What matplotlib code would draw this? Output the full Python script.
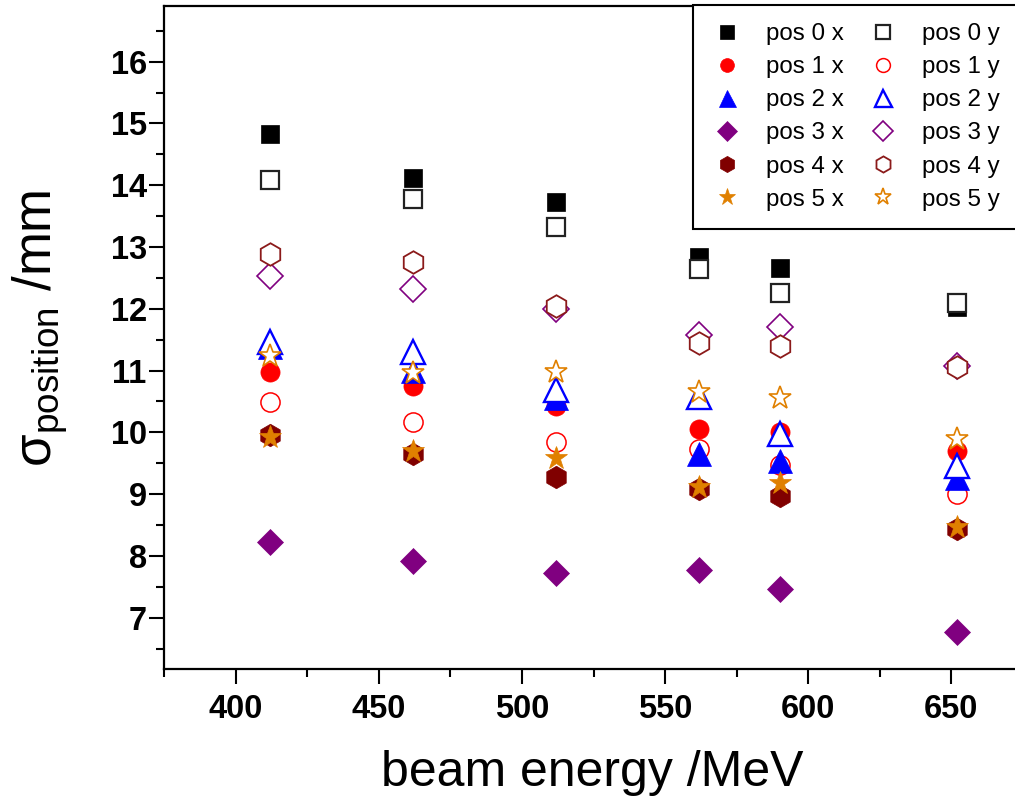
import matplotlib
matplotlib.use("Agg")
import matplotlib.pyplot as plt
from matplotlib.ticker import MultipleLocator

plt.rcParams['font.family'] = ['Liberation Sans', 'DejaVu Sans']
plt.rcParams['mathtext.fontset'] = 'custom'
plt.rcParams['mathtext.rm'] = 'Liberation Sans'
plt.rcParams['mathtext.it'] = 'Liberation Sans:italic'
plt.rcParams['mathtext.bf'] = 'Liberation Sans:bold'

# beam energies (MeV)
energy = [412, 462, 512, 562, 590, 652]

# beam width sigma (mm) per monitor position, horizontal (x) and vertical (y)
pos0_x = [14.83, 14.12, 13.72, 12.83, 12.66, 12.03]
pos0_y = [14.09, 13.77, 13.32, 12.65, 12.25, 12.09]
pos1_x = [10.97, 10.75, 10.43, 10.06, 10.01, 9.70]
pos1_y = [10.49, 10.17, 9.84, 9.73, 9.47, 9.00]
pos2_x = [11.38, 11.00, 10.55, 9.65, 9.54, 9.26]
pos2_y = [11.47, 11.30, 10.68, 10.58, 9.97, 9.46]
pos3_x = [8.23, 7.92, 7.72, 7.77, 7.46, 6.77]
pos3_y = [12.53, 12.32, 12.00, 11.58, 11.71, 11.07]
pos4_x = [9.96, 9.65, 9.27, 9.08, 8.97, 8.43]
pos4_y = [12.88, 12.76, 12.05, 11.45, 11.40, 11.06]
pos5_x = [9.93, 9.70, 9.58, 9.12, 9.18, 8.47]
pos5_y = [11.24, 10.96, 10.98, 10.66, 10.56, 9.90]

labels_x = ['pos 0 x', 'pos 1 x', 'pos 2 x', 'pos 3 x', 'pos 4 x', 'pos 5 x']
labels_y = ['pos 0 y', 'pos 1 y', 'pos 2 y', 'pos 3 y', 'pos 4 y', 'pos 5 y']

series_x = [pos0_x, pos1_x, pos2_x, pos3_x, pos4_x, pos5_x]
series_y = [pos0_y, pos1_y, pos2_y, pos3_y, pos4_y, pos5_y]

colors = ['#000000', '#ff0000', '#0000ff', '#800080', '#800000', '#e08000']
markers = ['s', 'o', '^', 'D', 'h', '*']
sizes = [13.3, 13.8, 17.0, 13.7, 16.2, 17.2]
open_edge = [1.6, 1.1, 1.7, 1.2, 1.3, 1.2]
open_edge_color = ['#222222', '#ff0000', '#0000ff', '#800080', '#8b1a1a', '#e08000']

fig = plt.figure(figsize=(10.15, 7.99), dpi=100)
ax = fig.add_axes([164 / 1015, 130 / 799, 859 / 1015, 663 / 799])

handles_x, handles_y = [], []
for i in range(6):
    hx, = ax.plot(energy, series_x[i], linestyle='none', marker=markers[i],
                  markersize=sizes[i], color=colors[i], markerfacecolor=colors[i],
                  markeredgecolor=colors[i], markeredgewidth=0.5, label=labels_x[i])
    hy, = ax.plot(energy, series_y[i], linestyle='none', marker=markers[i],
                  markersize=sizes[i], markerfacecolor='white',
                  markeredgecolor=open_edge_color[i], markeredgewidth=open_edge[i],
                  label=labels_y[i])
    handles_x.append(hx)
    handles_y.append(hy)

ax.set_xlim(375, 675)
ax.set_ylim(6.17, 16.9)
ax.xaxis.set_major_locator(MultipleLocator(50))
ax.xaxis.set_minor_locator(MultipleLocator(25))
ax.yaxis.set_major_locator(MultipleLocator(1))
ax.yaxis.set_minor_locator(MultipleLocator(0.5))

for side in ['left', 'bottom', 'top', 'right']:
    ax.spines[side].set_linewidth(1.6)
ax.tick_params(which='major', direction='out', length=10.5, width=1.5,
               labelsize=23.5, pad=7.5)
ax.tick_params(which='minor', direction='out', length=5.5, width=1.5)
ax.tick_params(axis='y', which='major', pad=2)
for lbl in ax.get_xticklabels() + ax.get_yticklabels():
    lbl.set_fontweight('bold')

fig.text(592 / 1015, 13 / 799, 'beam energy /MeV', fontsize=36,
         ha='center', va='baseline')
fig.text(40 / 1015, (799 - 328) / 799, 'σ$_{\\mathrm{position}}$ /mm',
         fontsize=38, rotation=90, ha='center', va='center')

leg = ax.legend(handles=handles_x + handles_y, ncol=2, loc='upper left',
                bbox_to_anchor=(693 / 1015, 794 / 799),
                bbox_transform=fig.transFigure, fontsize=17.4,
                markerscale=0.72, frameon=True, fancybox=False,
                edgecolor='black', framealpha=1, borderpad=0.75,
                handlelength=1.3, handletextpad=0.96, columnspacing=0.97,
                labelspacing=0.46, borderaxespad=0)
leg.get_frame().set_linewidth(1.5)

fig.savefig('out.png', dpi=100)
